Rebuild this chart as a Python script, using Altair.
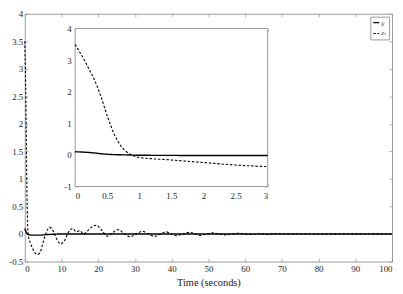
import altair as alt
import pandas as pd

# ---------------- data ----------------
t_z2 = [0, 0.3, 0.6, 0.9, 1.5, 2.0, 2.5, 3.0, 3.5, 4.2, 5.0, 5.8, 6.8, 7.8, 8.6, 9.8,
        10.8, 11.8, 13.0, 14.0, 15.0, 16.0, 17.0, 18.3, 19.5, 20.8, 22.5, 24.0, 25.5,
        27.0, 28.7, 30.3, 32.0, 33.7, 35.3, 37.0, 38.4, 40.0, 41.2, 43.0, 45.0, 46.5,
        47.8, 49.5, 51.0, 53.0, 54.5, 56.5, 58.0, 60.0, 62.0, 64.0, 66.0, 68.0, 70.0,
        75.0, 80.0, 85.0, 90.0, 95.0, 100.0]
v_z2 = [3.5, 2.4, 0.7, 0.0, -0.16, -0.24, -0.31, -0.36, -0.37, -0.33, -0.15, 0.02, 0.12,
        0.05, -0.08, -0.18, -0.12, 0.02, 0.10, 0.04, 0.06, 0.0, 0.05, 0.13, 0.16, 0.08,
        -0.04, 0.03, 0.08, 0.01, -0.05, 0.0, 0.05, 0.0, -0.04, 0.0, 0.04, 0.0, -0.03, 0.0,
        0.03, 0.0, -0.025, 0.0, 0.02, 0.0, -0.015, 0.0, 0.015, 0.0, -0.01, 0.01, -0.008,
        0.007, 0.0, 0.005, -0.004, 0.003, -0.002, 0.002, 0.0]
t_y = [0, 0.5, 1.0, 2.0, 4.0, 6.0, 10.0, 20.0, 100.0]
v_y = [0.1, 0.02, -0.01, -0.02, -0.02, -0.01, 0.0, 0.0, 0.0]

ti_z2 = [0, 0.07, 0.14, 0.2, 0.3, 0.4, 0.5, 0.6, 0.7, 0.8, 0.88, 1.0, 1.5, 2.0, 2.5, 3.0]
vi_z2 = [3.5, 3.26, 3.02, 2.78, 2.38, 1.86, 1.24, 0.7, 0.32, 0.1, 0.0, -0.08, -0.16,
         -0.24, -0.32, -0.37]
ti_y = [0, 0.2, 0.5, 0.8, 1.0, 1.5, 2.0, 3.0]
vi_y = [0.1, 0.08, 0.02, 0.0, -0.01, -0.015, -0.02, -0.02]

SERIES = ["y", "z₂"]
x_ticks = [0, 10, 20, 30, 40, 50, 60, 70, 80, 90, 100]
y_ticks = [-0.5, 0, 0.5, 1, 1.5, 2, 2.5, 3, 3.5, 4]
xi_ticks = [0, 0.5, 1, 1.5, 2, 2.5, 3]
yi_ticks = [-1, 0, 1, 2, 3, 4]

# ---------------- style ----------------
FONT = "Liberation Serif"
W, H = 372, 251
IX0, IX1, IY0, IY1 = 51, 246, 175, 15  # inset placement inside the plot area
AXC = "#999999"
TXT = "#222222"

main_df = pd.concat([
    pd.DataFrame({"t": t_y, "v": v_y, "s": SERIES[0]}),
    pd.DataFrame({"t": t_z2, "v": v_z2, "s": SERIES[1]}),
])
inset_df = pd.concat([
    pd.DataFrame({"t": ti_y, "v": vi_y, "s": SERIES[0]}),
    pd.DataFrame({"t": ti_z2, "v": vi_z2, "s": SERIES[1]}),
])
frame_df = pd.DataFrame({"x0": [0], "x1": [3], "y0": [-1], "y1": [4]})

x_main = alt.Scale(domain=[0, 100], nice=False, zero=False)
y_main = alt.Scale(domain=[-0.5, 4], nice=False, zero=False)
x_in = alt.Scale(domain=[0, 3], range=[IX0, IX1], nice=False, zero=False)
y_in = alt.Scale(domain=[-1, 4], range=[IY0, IY1], nice=False, zero=False)

lbl = "datum.value + ''"


def tick_axis(orient, offset, values):
    return alt.Axis(orient=orient, offset=offset, values=values, labels=False,
                    domain=False, ticks=True, tickSize=3, tickColor=AXC,
                    tickWidth=0.8, title=None, grid=False)


def label_axis(orient, offset, values, pad, title=None):
    kw = dict(orient=orient, offset=offset, values=values, labels=True, ticks=False,
              domain=False, grid=False, labelFont=FONT, labelFontSize=9,
              labelColor=TXT, labelPadding=pad, labelExpr=lbl)
    if title is not None:
        kw.update(title=title, titleFont=FONT, titleFontSize=10.5,
                  titleFontWeight="normal", titleColor=TXT, titlePadding=4)
    else:
        kw.update(title=None)
    return alt.Axis(**kw)


dash = alt.StrokeDash(
    "s:N",
    scale=alt.Scale(domain=SERIES, range=[[1, 0], [2.5, 1.8]]),
    legend=alt.Legend(orient="top-right", offset=3, title=None, symbolType="stroke",
                      symbolSize=36, symbolStrokeWidth=1.2, symbolStrokeColor="black",
                      labelFont="DejaVu Serif", labelFontSize=5.5, labelFontStyle="italic",
                      labelColor=TXT, padding=2, rowPadding=3, strokeColor=AXC,
                      fillColor="white", symbolOffset=0, labelOffset=1),
)
swidth = alt.StrokeWidth("s:N", scale=alt.Scale(domain=SERIES, range=[1.4, 1.1]), legend=None)

# ---------------- main plot ----------------
main_lines = alt.Chart(main_df).mark_line(color="black", interpolate="monotone").encode(
    x=alt.X("t:Q", scale=x_main, axis=label_axis("bottom", 0, x_ticks, 3, "Time (seconds)")),
    y=alt.Y("v:Q", scale=y_main, axis=label_axis("left", 0, y_ticks, 2)),
    strokeDash=dash,
    strokeWidth=swidth,
    detail="s:N",
)


def dummy(df, xs, ys, xaxis, yaxis):
    return alt.Chart(df).mark_line(opacity=0).encode(
        x=alt.X("t:Q", scale=xs, axis=xaxis),
        y=alt.Y("v:Q", scale=ys, axis=yaxis),
    )


main_group = alt.layer(
    main_lines,
    dummy(main_df, x_main, y_main, tick_axis("top", -H, x_ticks), None),
    dummy(main_df, x_main, y_main, tick_axis("bottom", -H, x_ticks), None),
    dummy(main_df, x_main, y_main, None, tick_axis("right", -W, y_ticks)),
    dummy(main_df, x_main, y_main, None, tick_axis("left", -W, y_ticks)),
).resolve_axis(x="independent", y="independent")

# ---------------- inset ----------------
frame = alt.Chart(frame_df).mark_rect(fill="white", stroke=AXC, strokeWidth=1).encode(
    x=alt.X("x0:Q", scale=x_in, axis=label_axis("bottom", -(H - IY0), xi_ticks, 5)),
    x2="x1:Q",
    y=alt.Y("y0:Q", scale=y_in, axis=label_axis("left", -IX0, yi_ticks, 4)),
    y2="y1:Q",
)
inset_lines = alt.Chart(inset_df).mark_line(color="black", interpolate="monotone").encode(
    x=alt.X("t:Q", scale=x_in, axis=tick_axis("top", -IY0, xi_ticks)),
    y=alt.Y("v:Q", scale=y_in, axis=tick_axis("right", -(W - IX0), yi_ticks)),
    strokeDash=dash,
    strokeWidth=swidth,
    detail="s:N",
)
inset_group = alt.layer(
    frame,
    inset_lines,
    dummy(inset_df, x_in, y_in, tick_axis("bottom", -(H - IY1), xi_ticks),
          tick_axis("left", -IX1, yi_ticks)),
).resolve_axis(x="independent", y="independent")

chart = alt.layer(main_group, inset_group).resolve_scale(
    x="independent", y="independent"
).properties(
    width=W, height=H, padding={"left": 0, "top": 0, "right": 0, "bottom": 0}
).configure(
    background="white", font=FONT, style={"guide-label": {"font": FONT}}
).configure_view(stroke=AXC, strokeWidth=1).configure_axis(
    labelFont=FONT, titleFont=FONT, labelFontSize=9, labelColor=TXT
)

chart.save("out.html", embed_options={"renderer": "svg", "actions": False})
